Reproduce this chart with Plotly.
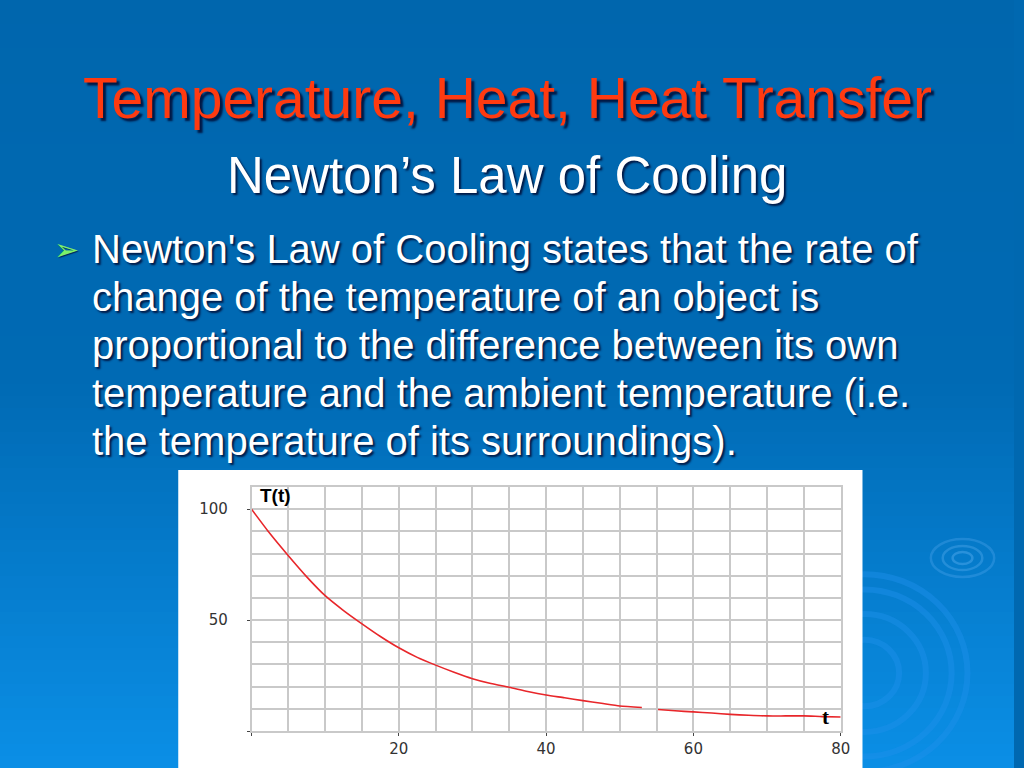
import plotly.graph_objects as go

# ---- data ----
time_min = [0, 2.5, 5, 7.5, 10, 12.5, 15, 17.5, 20, 22.5, 25, 27.5, 30, 32.5, 35, 37.5,
            40, 42.5, 45, 47.5, 50, 53, 54, 55.2, 57.5, 60, 62.5, 65, 67.5, 70, 72.5, 75, 77.5, 80]
temperature = [100, 89, 79, 69.5, 61, 54.3, 48.3, 42.6, 37.5, 33.2, 29.7, 26.5, 23.6, 21.4, 19.7, 17.8,
               16.2, 15, 13.7, 12.5, 11.3, 10.6, None, 9.7, 9.1, 8.6, 8.1, 7.5, 7.1, 6.8, 6.8, 6.8, 6.5, 6.3]
x_tick_vals = [0, 20, 40, 60, 80]
x_tick_text = ["", "20", "40", "60", "80"]
y_tick_vals = [0, 50, 100]
y_tick_text = ["", "50", "100"]

title_text = "Temperature, Heat, Heat Transfer"
subtitle_text = "Newton’s Law of Cooling"
body_lines = [
    "Newton's Law of Cooling states that the rate of",
    "change of the temperature of an object is",
    "proportional to the difference between its own",
    "temperature and the ambient temperature (i.e.",
    "the temperature of its surroundings).",
]

W, H = 1024, 768


def px(x):
    return x / W


def py(y):
    return 1 - y / H


def lerp(c1, c2, f):
    return tuple(round(a + (b - a) * f) for a, b in zip(c1, c2))


shapes = []
# background gradient bands
stops = [(0.0, (0, 102, 173)), (0.5, (0, 106, 180)), (1.0, (11, 143, 230))]
n = 64
for i in range(n):
    f = (i + 0.5) / n
    for (f0, c0), (f1, c1) in zip(stops[:-1], stops[1:]):
        if f0 <= f <= f1:
            c = lerp(c0, c1, (f - f0) / (f1 - f0))
            break
    shapes.append(dict(type="rect", xref="paper", yref="paper", layer="below",
                       x0=0, x1=1, y0=py((i + 1) * H / n + 0.5), y1=py(i * H / n),
                       line=dict(width=0), fillcolor="rgb(%d,%d,%d)" % c))

# decorative ripples
for rx, ry, a in [(10, 6, 0.35), (20, 12, 0.3), (32, 19, 0.25)]:
    cx, cy = 972, 558
    shapes.append(dict(type="circle", xref="paper", yref="paper", layer="below",
                       x0=px(cx - rx), x1=px(cx + rx), y0=py(cy + ry), y1=py(cy - ry),
                       line=dict(color="rgba(110,185,250,%.2f)" % a, width=2.5)))
for r in [35, 62, 88, 104]:
    cx, cy = 873, 673
    shapes.append(dict(type="circle", xref="paper", yref="paper", layer="below",
                       x0=px(cx - r), x1=px(cx + r), y0=py(cy + r * 0.95), y1=py(cy - r * 0.95),
                       line=dict(color="rgba(30,145,235,0.45)", width=6)))

# white chart box
shapes.append(dict(type="rect", xref="paper", yref="paper", layer="below",
                   x0=px(180), x1=px(871), y0=0, y1=py(470),
                   line=dict(width=0), fillcolor="white"))

fig = go.Figure()
fig.add_trace(go.Scatter(x=time_min, y=temperature, mode="lines",
                         line=dict(color="#e8262a", width=1.6, shape="spline", smoothing=0.6),
                         connectgaps=False, showlegend=False, hoverinfo="skip"))

annotations = []
annotations.append(dict(text=title_text, xref="paper", yref="paper", x=px(513), y=py(98),
                        xanchor="center", yanchor="middle", showarrow=False,
                        font=dict(family="Liberation Sans, Arial", size=57, color="#FF3A10",
                                  shadow="3px 3px 2px rgba(0,10,50,0.85)")))
annotations.append(dict(text=subtitle_text, xref="paper", yref="paper", x=px(512), y=py(175),
                        xanchor="center", yanchor="middle", showarrow=False,
                        font=dict(family="Liberation Sans, Arial", size=51, color="white",
                                  shadow="2px 2px 2px rgba(0,10,50,0.85)")))
annotations.append(dict(text="➢", xref="paper", yref="paper", x=px(53), y=py(250),
                        xanchor="left", yanchor="middle", showarrow=False,
                        font=dict(family="DejaVu Sans", size=30, color="#7CF06A",
                                  shadow="1px 1px 1px rgba(0,10,50,0.7)")))
for i, line in enumerate(body_lines):
    annotations.append(dict(text=line, xref="paper", yref="paper", x=px(91), y=py(249 + 48 * i),
                            xanchor="left", yanchor="middle", showarrow=False,
                            font=dict(family="Liberation Sans, Arial", size=40, color="white",
                                      shadow="2px 2px 2px rgba(0,10,50,0.85)")))
annotations.append(dict(text="<b>T(t)</b>", xref="paper", yref="paper", x=px(261), y=py(495),
                        xanchor="left", yanchor="middle", showarrow=False,
                        font=dict(family="Liberation Sans, Arial", size=19, color="black")))
annotations.append(dict(text="<b>t</b>", xref="paper", yref="paper", x=px(834), y=py(717),
                        xanchor="center", yanchor="middle", showarrow=False,
                        font=dict(family="Liberation Serif, Times New Roman", size=21, color="black")))

grid_c = "#c9c9c9"
fig.update_layout(
    width=W, height=H, margin=dict(l=0, r=0, t=0, b=0), autosize=False,
    paper_bgcolor="#0068B0", plot_bgcolor="white",
    shapes=shapes, annotations=annotations, showlegend=False,
    xaxis=dict(domain=[px(254), px(849)], range=[0, 80], tickvals=x_tick_vals, ticktext=x_tick_text,
               ticks="outside", ticklen=3, tickcolor="#444", tickwidth=1,
               showgrid=True, gridcolor=grid_c, gridwidth=1.5,
               minor=dict(dtick=5, showgrid=True, gridcolor=grid_c, gridwidth=1.5),
               showline=True, linecolor=grid_c, linewidth=1.5, mirror=True, zeroline=False,
               tickfont=dict(family="DejaVu Sans", size=15, color="#333"), ticklabelstandoff=0,
               fixedrange=True),
    yaxis=dict(domain=[py(731), py(487)], range=[0, 110], tickvals=y_tick_vals, ticktext=y_tick_text,
               ticks="outside", ticklen=3, tickcolor="#444", tickwidth=1,
               showgrid=True, gridcolor=grid_c, gridwidth=1.5,
               minor=dict(dtick=10, showgrid=True, gridcolor=grid_c, gridwidth=1.5),
               showline=True, linecolor=grid_c, linewidth=1.5, mirror=True, zeroline=False,
               tickfont=dict(family="DejaVu Sans", size=15, color="#333"), ticklabelstandoff=16,
               fixedrange=True),
)

fig.write_html("out.html", config={"displayModeBar": False, "responsive": False},
               post_script="document.body.style.margin='0';document.body.style.overflow='hidden';")
